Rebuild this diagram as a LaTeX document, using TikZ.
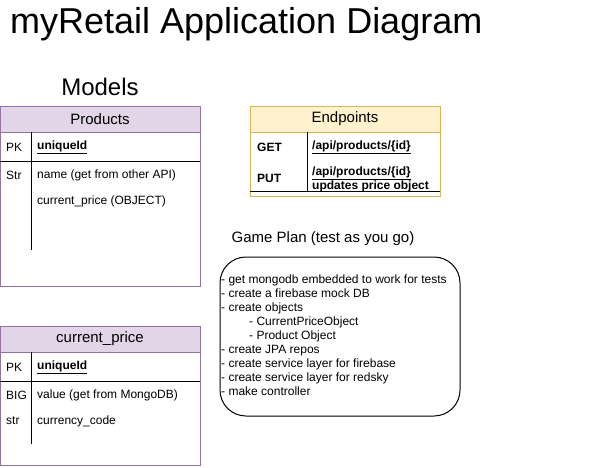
\documentclass[tikz,border=0pt]{standalone}
\usepackage{fontspec}
\setmainfont{Liberation Sans}
\usetikzlibrary{positioning}
\definecolor{modelfill}{HTML}{E1D5E7}
\definecolor{modeldraw}{HTML}{9673A6}
\definecolor{endfill}{HTML}{FFF2CC}
\definecolor{enddraw}{HTML}{D6B656}
\tikzset{
  headcell/.style={draw=#1,line width=1pt,minimum height=26pt,inner sep=0pt,
                   font=\fontsize{15}{17}\selectfont},
  tblframe/.style={draw=#1,line width=1pt},
  rowsep/.style={draw=black,line width=1pt},
  fieldtxt/.style={anchor=west,inner sep=0pt,font=\fontsize{12}{14}\selectfont},
  keytxt/.style={fieldtxt,font=\fontsize{12}{14}\selectfont\bfseries},
  routetxt/.style={anchor=west,inner sep=0pt,align=left,
                   font=\fontsize{12}{14}\selectfont\bfseries},
  planbox/.style={draw=black,line width=1pt,rounded corners=26pt,inner sep=0pt},
}
\begin{document}
\begin{tikzpicture}[x=1pt,y=-1pt]
  \useasboundingbox (0,0) rectangle (616,467);
  % titles
  \node[anchor=base west,inner sep=0pt,font=\fontsize{36}{42}\selectfont] (title) at (10,33)
    {myRetail Application Diagram};
  \node[anchor=base,inner sep=0pt,font=\fontsize{24}{28}\selectfont] (models) at (100,95) {Models};

  % Products model
  \draw[tblframe=modeldraw] (0,132) rectangle (200,286);
  \node[headcell=modeldraw,fill=modelfill,minimum width=200pt] (prodhead) at (100,119) {Products};
  \draw[rowsep] (0,161.5) -- (200,161.5);
  \draw[rowsep] (31,132) -- (31,250);
  \node[fieldtxt] (prodpk) at (6,147) {PK};
  \node[keytxt] (prodid) at (37,147) {\underline{uniqueId}};
  \node[fieldtxt] (prodstr) at (6,175) {Str};
  \node[fieldtxt] (prodname) at (37,175) {name (get from other API)};
  \node[fieldtxt] (prodprice) at (37,201) {current\_price (OBJECT)};

  % current_price model
  \draw[tblframe=modeldraw] (0,352) rectangle (200,465.5);
  \node[headcell=modeldraw,fill=modelfill,minimum width=200pt] (pricehead) at (100,339) {current\_price};
  \draw[rowsep] (0,381.5) -- (200,381.5);
  \draw[rowsep] (31,352) -- (31,444);
  \node[fieldtxt] (pricepk) at (6,367) {PK};
  \node[keytxt] (priceid) at (37,367) {\underline{uniqueId}};
  \node[fieldtxt] (pricebig) at (6,395) {BIG};
  \node[fieldtxt] (priceval) at (37,395) {value (get from MongoDB)};
  \node[fieldtxt] (pricestr) at (6,421) {str};
  \node[fieldtxt] (pricecode) at (37,421) {currency\_code};

  % Endpoints
  \draw[tblframe=enddraw] (250,132) rectangle (440,196);
  \node[headcell=enddraw,fill=endfill,minimum width=190pt] (endhead) at (345,119) {Endpoints};
  \draw[rowsep] (250,191.5) -- (440,191.5);
  \draw[rowsep] (307,132) -- (307,191.5);
  \node[routetxt] (getverb) at (257,147) {GET};
  \node[routetxt] (getroute) at (312,147) {\underline{/api/products/\{id\}}};
  \node[routetxt] (putverb) at (257,178) {PUT};
  \node[routetxt] (putroute) at (312,179) {\underline{/api/products/\{id\}}\\updates price object};

  % Game plan
  \node[anchor=base,inner sep=0pt,font=\fontsize{15}{17}\selectfont] (plantitle) at (323,242)
    {Game Plan (test as you go)};
  \node[planbox,minimum width=240pt,minimum height=159pt] (plan) at (340,336.5) {};
  \node[anchor=north west,inner sep=0pt,align=left,font=\fontsize{12}{14}\selectfont]
    (plantext) at (221,275) {- get mongodb embedded to work for tests\\
    - create a firebase mock DB\\
    - create objects\\
    \hspace*{28pt}- CurrentPriceObject\\
    \hspace*{28pt}- Product Object\\
    - create JPA repos\\
    - create service layer for firebase\\
    - create service layer for redsky\\
    - make controller};
\end{tikzpicture}
\end{document}
